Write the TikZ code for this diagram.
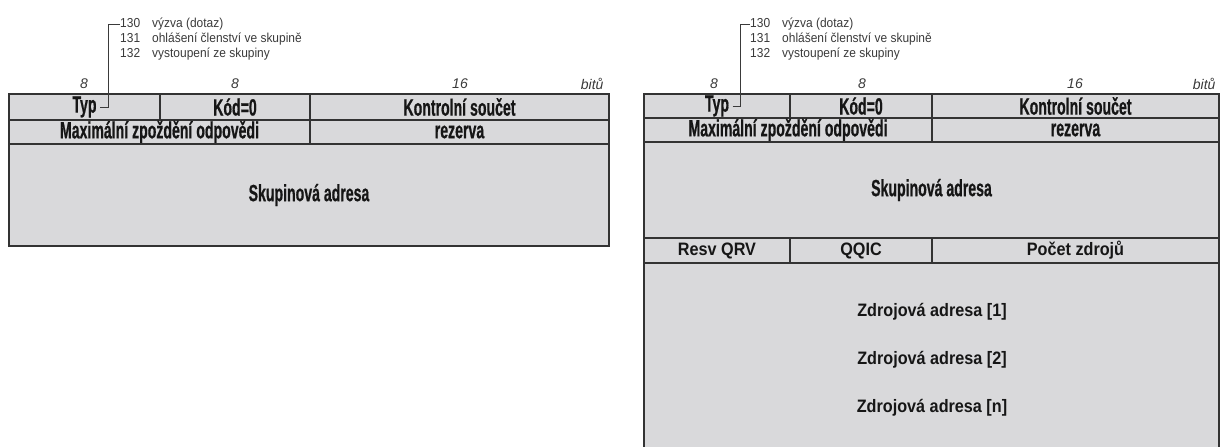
\documentclass[tikz,border=0pt]{standalone}
\usepackage{fontspec}
\setmainfont{Liberation Sans}
\newfontfamily\condfont{Liberation Sans}[FakeStretch=0.6,FakeBold=0.6]
\newfontfamily\narrowfont{Liberation Sans}[FakeStretch=0.9]
\newfontfamily\notefont{Liberation Sans}[FakeStretch=0.92]
\definecolor{cellgrey}{HTML}{D9D9DB}
\definecolor{rule}{HTML}{333333}
\definecolor{ink}{HTML}{161616}
\definecolor{note}{HTML}{3A3A3A}

\begin{document}
\begin{tikzpicture}[x=1pt,y=-1pt,
  cell/.style={draw=rule,line width=1.1pt,fill=cellgrey,anchor=north west,
               inner sep=0pt,outer sep=0pt},
  hdr/.style={font=\condfont\bfseries\fontsize{23.5}{26}\selectfont,text=ink},
  fld/.style={font=\narrowfont\bfseries\fontsize{18}{20}\selectfont,text=ink},
  bits/.style={font=\itshape\fontsize{14}{16}\selectfont,text=note},
  code/.style={font=\notefont\fontsize{13}{15}\selectfont,text=note,
               anchor=west,inner sep=0pt},
  frame/.style={draw=rule,line width=2pt},
  bracket/.style={draw=note,line width=0.9pt}
]
\useasboundingbox (0,0) rectangle (1221,447);

% left: query / report v2
\node[cell,minimum width=151pt,minimum height=26pt] (typcellL) at (9,94) {};
\node[hdr] (typL) at (typcellL.center) {Typ};
\node[cell,hdr,minimum width=150pt,minimum height=26pt] (kodL) at (160,94) {Kód=0};
\node[cell,hdr,minimum width=299pt,minimum height=26pt] (sumL) at (310,94) {Kontrolní součet};
\node[cell,hdr,minimum width=301pt,minimum height=24pt] (delayL) at (9,120) {Maximální zpoždění odpovědi};
\node[cell,hdr,minimum width=299pt,minimum height=24pt] (resL) at (310,120) {rezerva};
\node[cell,hdr,minimum width=600pt,minimum height=102pt] (grpL) at (9,144) {Skupinová adresa};
\draw[frame] (typcellL.north west) rectangle (grpL.south east);

\node[bits] (b1L) at (84,84) {8};
\node[bits] (b2L) at (235,84) {8};
\node[bits] (b3L) at (460,84) {16};
\node[bits,anchor=east] (b4L) at (607,84) {bitů};

\node[code] (c130L) at (120,24) {\makebox[32pt][l]{130}výzva (dotaz)};
\node[code] (c131L) at (120,39) {\makebox[32pt][l]{131}ohlášení členství ve skupině};
\node[code] (c132L) at (120,54) {\makebox[32pt][l]{132}vystoupení ze skupiny};
\draw[bracket] (typL.east) -- ++(8,0) |- (c130L.west);

% right: query v3
\node[cell,minimum width=146pt,minimum height=24pt] (typcellR) at (644,94) {};
\node[hdr] (typR) at (typcellR.center) {Typ};
\node[cell,hdr,minimum width=142pt,minimum height=24pt] (kodR) at (790,94) {Kód=0};
\node[cell,hdr,minimum width=287pt,minimum height=24pt] (sumR) at (932,94) {Kontrolní součet};
\node[cell,hdr,minimum width=288pt,minimum height=24pt] (delayR) at (644,118) {Maximální zpoždění odpovědi};
\node[cell,hdr,minimum width=287pt,minimum height=24pt] (resR) at (932,118) {rezerva};
\node[cell,hdr,minimum width=575pt,minimum height=96pt] (grpR) at (644,142) {Skupinová adresa};
\node[cell,fld,minimum width=146pt,minimum height=25pt] (qrvR) at (644,238) {Resv QRV};
\node[cell,fld,minimum width=142pt,minimum height=25pt] (qqicR) at (790,238) {QQIC};
\node[cell,fld,minimum width=287pt,minimum height=25pt] (cntR) at (932,238) {Počet zdrojů};
\node[cell,minimum width=575pt,minimum height=190pt] (srcR) at (644,263) {};
\draw[frame] (typcellR.north west) rectangle (srcR.south east);

\node[fld] (src1R) at (932,312) {Zdrojová adresa [1]};
\node[fld] (src2R) at (932,360) {Zdrojová adresa [2]};
\node[fld] (srcnR) at (932,408) {Zdrojová adresa [n]};

\node[bits] (b1R) at (714,84) {8};
\node[bits] (b2R) at (862,84) {8};
\node[bits] (b3R) at (1075,84) {16};
\node[bits,anchor=east] (b4R) at (1219,84) {bitů};

\node[code] (c130R) at (750,24) {\makebox[32pt][l]{130}výzva (dotaz)};
\node[code] (c131R) at (750,39) {\makebox[32pt][l]{131}ohlášení členství ve skupině};
\node[code] (c132R) at (750,54) {\makebox[32pt][l]{132}vystoupení ze skupiny};
\draw[bracket] (typR.east) -- ++(8,0) |- (c130R.west);
\end{tikzpicture}
\end{document}
